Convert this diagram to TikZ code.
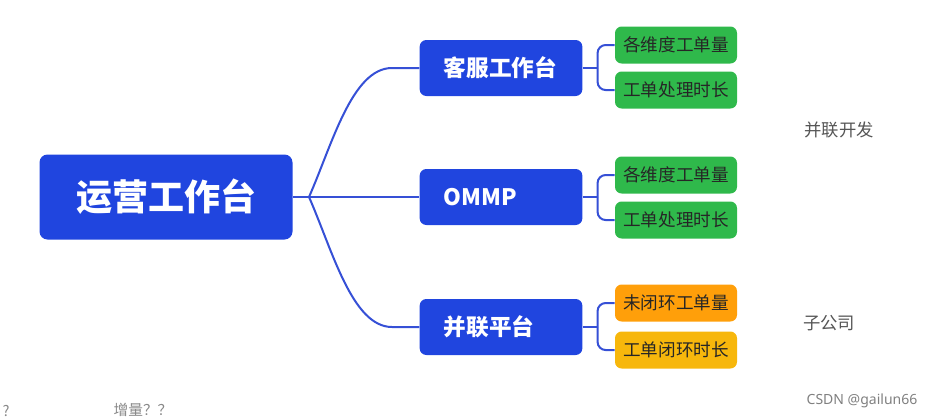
\documentclass[tikz,border=0pt]{standalone}
\usepackage{fontspec}
\setmainfont{Noto Sans CJK SC}
\newfontfamily\cjk{Noto Sans CJK SC}
\usetikzlibrary{positioning}

\definecolor{boxblue}{HTML}{2045DF}
\definecolor{lineblue}{HTML}{3650D6}
\definecolor{leafgreen}{HTML}{2FB94B}
\definecolor{leaforange}{HTML}{FF9F0A}
\definecolor{leafyellow}{HTML}{F7B70C}
\definecolor{notegray}{HTML}{555555}

\begin{document}
\begin{tikzpicture}[x=0.75pt, y=-0.75pt,
	mainbox/.style={fill=boxblue, rounded corners=6pt, text=white, font=\cjk\bfseries\fontsize{27}{30}\selectfont,
		minimum width=189.75pt, minimum height=63.75pt},
	subbox/.style={fill=boxblue, rounded corners=5pt, text=white, font=\cjk\bfseries\fontsize{17}{19}\selectfont,
		text width=86pt, align=left, inner xsep=18pt, minimum height=42pt},
	leafbox/.style={rounded corners=5pt, text=black!85, font=\cjk\fontsize{13.2}{15}\selectfont,
		minimum width=91.5pt, minimum height=27.75pt, inner xsep=2pt},
	link/.style={draw=lineblue, line width=1.5pt},
	note/.style={text=notegray, font=\cjk\fontsize{13}{15}\selectfont}]

\useasboundingbox (0,0) rectangle (925,419);

\path (166,197) node[mainbox] (ops) {运营工作台};
\path (501,68) node[subbox] (kefu) {客服工作台};
\path (501,197) node[subbox] (ommp) {OMMP};
\path (501,327) node[subbox] (binglian) {并联平台};

\path (676,45) node[leafbox, fill=leafgreen] (kefu-count) {各维度工单量};
\path (676,90) node[leafbox, fill=leafgreen] (kefu-time) {工单处理时长};
\path (676,175) node[leafbox, fill=leafgreen] (ommp-count) {各维度工单量};
\path (676,220) node[leafbox, fill=leafgreen] (ommp-time) {工单处理时长};
\path (676,303) node[leafbox, fill=leaforange] (bl-count) {未闭环工单量};
\path (676,350) node[leafbox, fill=leafyellow] (bl-time) {工单闭环时长};

\path (839,130) node[note] (dev) {并联开发};
\path (829,323) node[note] (sub) {子公司};
\path (143,418) node[note, anchor=south, text=notegray!70, font=\cjk\fontsize{11}{12}\selectfont, inner ysep=1pt] (incr) {增量？？};
\path (1,418) node[note, anchor=south west, text=notegray!70, font=\cjk\fontsize{11}{12}\selectfont, inner sep=1pt] (qm) {?};
\path (862,401) node[text=gray, font=\fontspec{Noto Sans}\fontsize{10.5}{12}\selectfont] (csdn) {CSDN @gailun66};

\draw[link] (node cs:name=ops, anchor=east) -- (309,197) coordinate (hub);
\draw[link] (hub) .. controls (332,145) and (352,68) .. (392,68) -- (node cs:name=kefu, anchor=west);
\draw[link] (hub) -- (node cs:name=ommp, anchor=west);
\draw[link] (hub) .. controls (332,249) and (352,327) .. (392,327) -- (node cs:name=binglian, anchor=west);

\draw[link] (kefu.east) -- ++(15,0) coordinate (kefu-k);
\draw[link, rounded corners=6pt] (kefu-k) |- (kefu-count.west);
\draw[link, rounded corners=6pt] (kefu-k) |- (kefu-time.west);

\draw[link] (ommp.east) -- ++(15,0) coordinate (ommp-k);
\draw[link, rounded corners=6pt] (ommp-k) |- (ommp-count.west);
\draw[link, rounded corners=6pt] (ommp-k) |- (ommp-time.west);

\draw[link] (binglian.east) -- ++(15,0) coordinate (bl-k);
\draw[link, rounded corners=6pt] (bl-k) |- (bl-count.west);
\draw[link, rounded corners=6pt] (bl-k) |- (bl-time.west);
\end{tikzpicture}
\end{document}
